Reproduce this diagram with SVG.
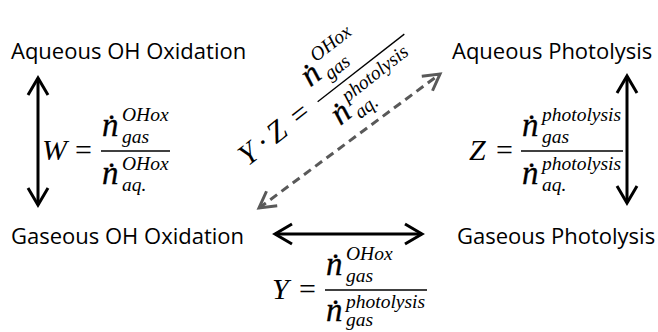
<svg xmlns="http://www.w3.org/2000/svg" width="658" height="332" viewBox="0 0 658 332">
<style>
.lbl{font-family:"Open Sans","Liberation Sans",sans-serif;font-size:22px;fill:#000}
.m{font-family:"Liberation Serif","Times New Roman",serif;fill:#000}
.mi{font-style:italic;font-size:30px}
.mu{font-size:30px}
.n{font-style:italic;font-size:33px;stroke:#000;stroke-width:0.3}
.s{font-style:italic;font-size:19.5px}
.fl{stroke:#000;stroke-width:1.3}
.arr{stroke:#000;stroke-width:3;fill:none}
.dash{stroke:#595959;stroke-width:3;fill:none;stroke-dasharray:8.5 5.5}
</style>
<defs>
<marker id="ah" markerUnits="userSpaceOnUse" markerWidth="30" markerHeight="30" viewBox="-20 -15 30 30" refX="0" refY="0" orient="auto-start-reverse" overflow="visible">
<path d="M-17,-10 L0,0 L-17,10" fill="none" stroke="#000" stroke-width="3"/>
</marker>
<marker id="ahg" markerUnits="userSpaceOnUse" markerWidth="30" markerHeight="30" viewBox="-20 -15 30 30" refX="0" refY="0" orient="auto-start-reverse" overflow="visible">
<path d="M-16,-9 L0,0 L-16,9" fill="none" stroke="#595959" stroke-width="3" stroke-dasharray="none"/>
</marker>
</defs>

<g id="connectors">
<line class="arr" x1="38" y1="78" x2="38" y2="205" marker-start="url(#ah)" marker-end="url(#ah)"/>
<line class="arr" x1="627" y1="76" x2="627" y2="203" marker-start="url(#ah)" marker-end="url(#ah)"/>
<line class="arr" x1="275" y1="234" x2="422" y2="234" marker-start="url(#ah)" marker-end="url(#ah)"/>
<line class="dash" x1="259" y1="208" x2="440" y2="74" marker-start="url(#ahg)" marker-end="url(#ahg)"/>
</g>

<g id="aq-oh"><text class="lbl" x="11" y="59">Aqueous OH Oxidation</text></g>
<g id="aq-photo"><text class="lbl" x="452" y="59">Aqueous Photolysis</text></g>
<g id="gas-oh"><text class="lbl" x="11" y="244">Gaseous OH Oxidation</text></g>
<g id="gas-photo"><text class="lbl" x="457" y="244">Gaseous Photolysis</text></g>

<g id="formula-w" class="m">
<text class="mi" x="42" y="160">W</text>
<text class="mu" x="75" y="160">=</text>
<line class="fl" x1="101" y1="151" x2="170" y2="151"/>
<text class="n" x="102" y="136">n<tspan dx="-14.5" dy="1.5">˙</tspan></text>
<text class="s" x="122" y="121">OHox</text>
<text class="s" x="122" y="143">gas</text>
<text class="n" x="102" y="184">n<tspan dx="-14.5" dy="1.5">˙</tspan></text>
<text class="s" x="122" y="170">OHox</text>
<text class="s" x="122" y="191">aq.</text>
</g>

<g id="formula-z" class="m">
<text class="mi" x="469" y="160">Z</text>
<text class="mu" x="496" y="160">=</text>
<line class="fl" x1="521" y1="151" x2="623" y2="151"/>
<text class="n" x="522" y="136">n<tspan dx="-14.5" dy="1.5">˙</tspan></text>
<text class="s" x="542" y="121">photolysis</text>
<text class="s" x="542" y="143">gas</text>
<text class="n" x="522" y="184">n<tspan dx="-14.5" dy="1.5">˙</tspan></text>
<text class="s" x="542" y="170">photolysis</text>
<text class="s" x="542" y="191">aq.</text>
</g>

<g id="formula-y" class="m">
<text class="mi" x="272" y="299">Y</text>
<text class="mu" x="299" y="299">=</text>
<line class="fl" x1="325" y1="290" x2="427" y2="290"/>
<text class="n" x="326" y="275">n<tspan dx="-14.5" dy="1.5">˙</tspan></text>
<text class="s" x="346" y="260">OHox</text>
<text class="s" x="346" y="282">gas</text>
<text class="n" x="326" y="321">n<tspan dx="-14.5" dy="1.5">˙</tspan></text>
<text class="s" x="346" y="308">photolysis</text>
<text class="s" x="346" y="326">gas</text>
</g>

<g id="formula-yz" class="m" transform="translate(320,100) rotate(-38)">
<text class="mi" x="-98" y="8">Y</text>
<text class="mu" x="-76" y="8">·</text>
<text class="mi" x="-62" y="8">Z</text>
<text class="mu" x="-33" y="8">=</text>
<line class="fl" x1="-3" y1="0" x2="107" y2="0"/>
<text class="n" x="0" y="-16">n<tspan dx="-14.5" dy="1.5">˙</tspan></text>
<text class="s" x="20" y="-32">OHox</text>
<text class="s" x="20" y="-9">gas</text>
<text class="n" x="0" y="33">n<tspan dx="-14.5" dy="1.5">˙</tspan></text>
<text class="s" x="20" y="19">photolysis</text>
<text class="s" x="20" y="40">aq.</text>
</g>
</svg>
